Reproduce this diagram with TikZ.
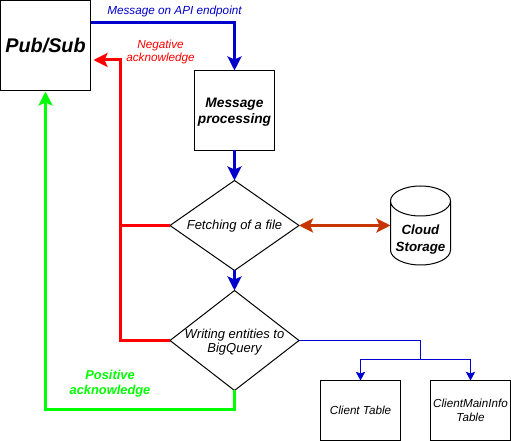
\documentclass[tikz,border=0pt]{standalone}
\usepackage{fontspec}
\setmainfont{Liberation Sans}
\usetikzlibrary{positioning}
\usetikzlibrary{arrows.meta}
\usetikzlibrary{shapes.geometric}
\definecolor{flowblue}{HTML}{0000CC}
\definecolor{storeorange}{HTML}{C73500}
\tikzset{
	tip/.style={-{Stealth[inset=2.2pt,length=10.5pt,width=10.5pt]}},
	bothtips/.style={{Stealth[inset=2.2pt,length=10.5pt,width=10.5pt]}-{Stealth[inset=2.2pt,length=10.5pt,width=10.5pt]}},
	smalltip/.style={-{Stealth[inset=1.2pt,length=6.5pt,width=7pt]}},
	stepbox/.style={draw, line width=.75pt, outer sep=0pt, inner sep=0pt, align=center},
	choice/.style={draw, diamond, line width=.75pt, outer sep=0pt, inner sep=0pt, minimum width=96.75pt},
	inchoice/.style={align=center, inner sep=0pt, font=\fontsize{9.75pt}{10.5pt}\selectfont\itshape},
	flowline/.style={draw=flowblue, line width=2.25pt},
	note/.style={align=center, inner sep=0pt}
}
\begin{document}
\begin{tikzpicture}[x=.75pt, y=-.75pt]
	\useasboundingbox (0,0) rectangle (511,441);

	\node[stepbox, minimum width=67.5pt, minimum height=67.5pt, font=\fontsize{14.85pt}{18pt}\selectfont\bfseries\itshape] (pubsub) at (45.5,45.5) {Pub/Sub};
	\node[stepbox, minimum width=60pt, minimum height=60pt, label={[note, yshift=-1.5pt, font=\fontsize{10.3pt}{12.2pt}\selectfont\bfseries\itshape]center:Message\\processing}] (msgproc) at (234.5,110.5) {};
	\node[choice, minimum height=67.5pt, label={[inchoice, yshift=-.7pt]center:Fetching of a file}] (fetch) at (234.5,225.5) {};
	\node[choice, minimum height=75pt, label={[inchoice, yshift=-1.5pt]center:Writing entities to\\BigQuery}] (write) at (234.5,340.5) {};
	\node[outer sep=0pt, inner sep=0pt, minimum width=45pt, minimum height=59.25pt,
		label={[note, yshift=-10.5pt, font=\fontsize{10pt}{12.2pt}\selectfont\bfseries\itshape]center:Cloud\\Storage}] (storage) at (420.5,225.5) {};
	\node[stepbox, minimum width=60pt, minimum height=45pt, font=\fontsize{8.75pt}{10pt}\selectfont\itshape] (client) at (360.5,410.5) {Client Table};
	\node[stepbox, minimum width=60pt, minimum height=45pt, font=\fontsize{8.75pt}{10.5pt}\selectfont\itshape] (info) at (470.5,410.5) {ClientMainInfo\\Table};

	% outline of the storage drum
	\draw[line width=.75pt] ([yshift=-11.25pt]storage.north west)
		arc[start angle=180, end angle=540, x radius=22.5pt, y radius=11.25pt]
		-- ([yshift=11.25pt]storage.south west)
		arc[start angle=180, end angle=360, x radius=22.5pt, y radius=11.25pt]
		-- ([yshift=-11.25pt]storage.north east);

	% free ends of the connectors
	\coordinate (pubout) at (90.5,23);
	\coordinate (pubin) at (93.5,60);
	\coordinate (redtop) at (120.5,60);
	\coordinate (greencorner) at (45.5,410);
	\coordinate (pubunder) at (45.5,91.5);
	\coordinate (split) at (420.5,360);

	\draw[flowline, tip] (pubout) -| (msgproc.north);
	\draw[flowline, tip] (msgproc.south) -- (fetch.north);
	\draw[flowline, tip] (fetch.south) -- (write.north);
	\draw[red, line width=2.25pt, tip] (fetch.west) -| (redtop) -- (pubin);
	\draw[red, line width=2.25pt] (write.west) -| (redtop);
	\draw[green, line width=2.25pt, tip] (write.south) |- (greencorner) -- (pubunder);
	\draw[storeorange, line width=2.25pt, bothtips] (fetch.east) -- (storage.west);

	\draw[flowblue, line width=.75pt] (write.east) -| (split);
	\draw[flowblue, line width=.75pt, smalltip] (split) -| (client.north);
	\draw[flowblue, line width=.75pt, smalltip] (split) -| (info.north);

	\node[note, text=flowblue, font=\fontsize{8.8pt}{10pt}\selectfont\itshape] (msgnote) at (174.5,11.5) {Message on API endpoint};
	\node[note, text=red, font=\fontsize{8.8pt}{10pt}\selectfont\itshape] (negnote) at (160.5,52) {Negative\\acknowledge};
	\node[note, text=green, font=\fontsize{9.65pt}{11.25pt}\selectfont\bfseries\itshape] (posnote) at (110,384) {Positive\\acknowledge};
\end{tikzpicture}
\end{document}
